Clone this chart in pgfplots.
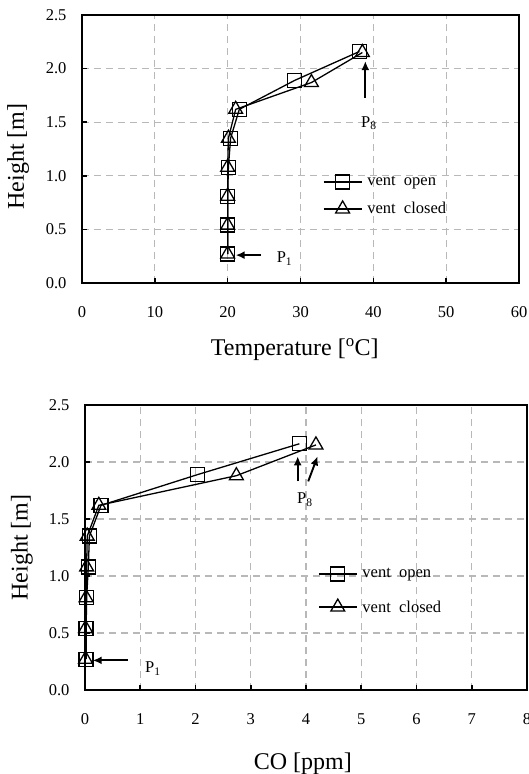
\documentclass[border=0pt]{standalone}
\usepackage{fontspec}
\setmainfont{Liberation Serif}
\usepackage{pgfplots}
\pgfplotsset{compat=1.18}
\usetikzlibrary{arrows.meta}

\tikzset{parrow/.style={line width=1.9pt, -{Latex[length=9pt, width=8pt]}}}

\pgfplotsset{
  profile/.style={
    scale only axis,
    axis line style={line width=2.5pt},
    tick align=inside,
    xtick pos=bottom, ytick pos=left,
    major tick style={line width=1.6pt, black},
    major tick length=5pt,
    grid=major,
    major grid style={dash pattern=on 7pt off 5pt, color=black!28, line width=1.1pt},
    ymin=0, ymax=2.5, ytick={0,0.5,1,1.5,2,2.5},
    /pgf/number format/assume math mode=true,
    yticklabel style={/pgf/number format/fixed, /pgf/number format/fixed zerofill,
      /pgf/number format/precision=1, xshift=-12pt},
    xticklabel style={yshift=-20pt},
    tick label style={font=\fontsize{16.5}{18}\selectfont},
    label style={font=\fontsize{24}{28}\selectfont},
    ylabel={Height [m]},
    legend style={draw=none, fill=none, inner sep=0pt,
      font=\fontsize{16.5}{18}\selectfont, nodes={inner sep=0pt}},
    legend cell align=left,
    legend image code/.code={
      \draw[mark repeat=2, mark phase=2, #1] plot coordinates {(0pt,0pt) (19pt,0pt) (38pt,0pt)};
      \path (43pt,0pt);},
  },
  vopen/.style={black, line width=1.3pt, mark=square, mark size=7pt, mark options={solid, line width=1.3pt}},
  vclosed/.style={black, line width=1.3pt, mark=triangle, mark size=8pt, mark options={solid, line width=1.3pt}},
}

\begin{document}
\begin{tikzpicture}
\useasboundingbox (0,0) rectangle (528pt,-774pt);

% temperature profile
\begin{axis}[profile,
  at={(82pt,-283pt)}, anchor=south west,
  width=437pt, height=268pt,
  xmin=0, xmax=60, xtick={0,10,...,60},
  xlabel={Temperature [\textsuperscript{o}C]},
  xlabel style={at={(axis description cs:0.487,-0.25)}, anchor=center},
  ylabel style={at={(axis description cs:-0.146,0.472)}, anchor=center},
  legend style={at={(axis description cs:0.551,0.404)}, anchor=north west, row sep=12pt},
]
\addplot[vopen] coordinates {
  (20.0,0.27) (20.0,0.54) (20.0,0.81) (20.1,1.08) (20.4,1.35) (21.6,1.62) (29.2,1.89) (38.1,2.16)};
\addplot[vclosed] coordinates {
  (20.0,0.27) (20.0,0.54) (20.0,0.81) (20.0,1.08) (20.1,1.35) (21.1,1.62) (31.5,1.87) (38.5,2.15)};
\legend{vent\ \ open, vent\ \ closed}
\draw[parrow] (axis cs:24.6,0.26) -- (axis cs:21.1,0.26);
\node[font=\fontsize{16.5}{18}\selectfont] at (axis cs:27.8,0.23) {P\textsubscript{1}};
\draw[parrow] (axis cs:38.9,1.73) -- (axis cs:38.9,2.07);
\node[font=\fontsize{16.5}{18}\selectfont] at (axis cs:39.4,1.49) {P\textsubscript{8}};
\end{axis}

% CO profile
\begin{axis}[profile,
  at={(85pt,-690pt)}, anchor=south west,
  width=442pt, height=285pt,
  xmin=0, xmax=8, xtick={0,1,...,8},
  xlabel={CO [ppm]},
  xlabel style={at={(axis description cs:0.493,-0.26)}, anchor=center},
  ylabel style={at={(axis description cs:-0.143,0.5)}, anchor=center},
  legend style={at={(axis description cs:0.527,0.432)}, anchor=north west, row sep=18pt},
]
\addplot[vopen] coordinates {
  (0.02,0.27) (0.02,0.54) (0.03,0.81) (0.06,1.08) (0.08,1.35) (0.29,1.62) (2.04,1.89) (3.88,2.16)};
\addplot[vclosed] coordinates {
  (0.01,0.27) (0.01,0.54) (0.02,0.81) (0.03,1.08) (0.04,1.35) (0.25,1.62) (2.74,1.88) (4.18,2.15)};
\legend{vent\ \ open, vent\ \ closed}
\draw[parrow] (axis cs:0.78,0.26) -- (axis cs:0.14,0.26);
\node[font=\fontsize{16.5}{18}\selectfont] at (axis cs:1.23,0.19) {P\textsubscript{1}};
\draw[parrow] (axis cs:3.85,1.83) -- (axis cs:3.85,2.05);
\draw[parrow] (axis cs:4.04,1.83) -- (axis cs:4.21,2.05);
\node[font=\fontsize{16.5}{18}\selectfont] at (axis cs:3.98,1.67) {P\textsubscript{8}};
\end{axis}
\end{tikzpicture}
\end{document}
